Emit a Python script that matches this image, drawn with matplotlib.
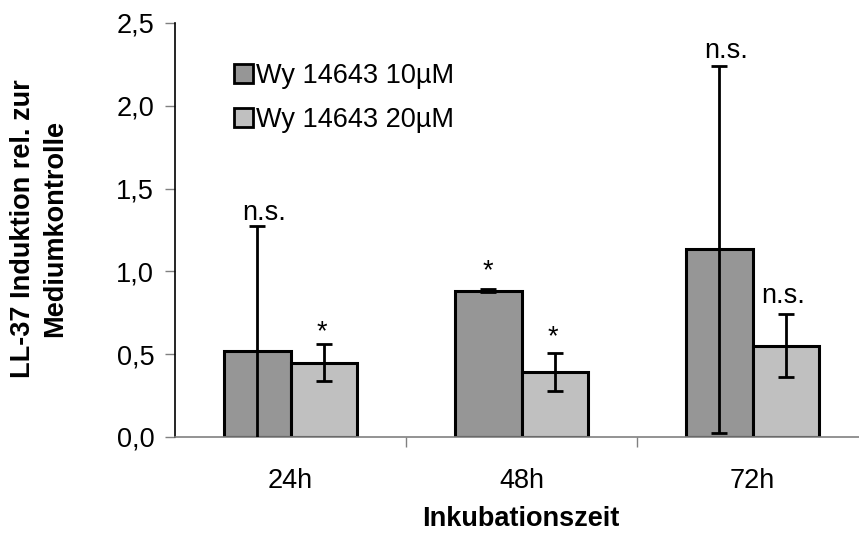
import matplotlib
matplotlib.use("Agg")
import matplotlib.pyplot as plt
import numpy as np

categories = ["24h", "48h", "72h"]
series_names = ["Wy 14643 10\u00b5M", "Wy 14643 20\u00b5M"]
values_10 = [0.52, 0.883, 1.133]
errors_10 = [0.755, 0.01, 1.11]
values_20 = [0.449, 0.394, 0.55]
errors_20 = [0.113, 0.116, 0.19]
labels_10 = ["n.s.", "*", "n.s."]
labels_20 = ["*", "*", "n.s."]
label_y_10 = [1.311, 0.96, 2.289]
label_y_20 = [0.592, 0.562, 0.811]
yticks = [0.0, 0.5, 1.0, 1.5, 2.0, 2.5]
ytick_labels = ["0,0", "0,5", "1,0", "1,5", "2,0", "2,5"]

plt.rcParams['font.family'] = ['Liberation Sans', 'DejaVu Sans']

W, H = 859, 534
fig = plt.figure(figsize=(W / 100, H / 100), dpi=100)
ax_left, ax_bottom = 175 / W, (H - 437) / H
ax_w, ax_h = 693 / W, (437 - 23) / H
ax = fig.add_axes([ax_left, ax_bottom, ax_w, ax_h])

x = np.arange(len(categories))
bw = 0.288
c1, c2 = "#969696", "#C0C0C0"
lw = 2.2
ax.bar(x - bw / 2, values_10, bw, color=c1, edgecolor="black", linewidth=lw, label=series_names[0], zorder=2)
ax.bar(x + bw / 2, values_20, bw, color=c2, edgecolor="black", linewidth=lw, label=series_names[1], zorder=2)
ax.errorbar(x - bw / 2, values_10, yerr=errors_10, fmt="none", ecolor="black", elinewidth=2, capsize=5.8, capthick=2, zorder=3)
ax.errorbar(x + bw / 2, values_20, yerr=errors_20, fmt="none", ecolor="black", elinewidth=2, capsize=5.8, capthick=2, zorder=3)

fs = 19.5
for xi, lab, yy in zip(x - bw / 2, labels_10, label_y_10):
    dx = 0.03 if lab == "n.s." else 0.0
    ax.text(xi + dx, yy, lab, ha="center", va="baseline", fontsize=fs)
for xi, lab, yy in zip(x + bw / 2, labels_20, label_y_20):
    dx = -0.01
    ax.text(xi + dx, yy, lab, ha="center", va="baseline", fontsize=fs)

ax.set_xlim(-0.5, 2.5)
ax.set_ylim(0, 2.5)
ax.set_yticks(yticks)
ax.set_yticklabels(ytick_labels, fontsize=fs)
ax.set_xticks(x)
ax.set_xticklabels(categories, fontsize=fs)
ax.set_xticks([0.5, 1.5], minor=True)
ax.tick_params(axis="x", which="major", length=0, pad=22)
ax.tick_params(axis="x", which="minor", length=7, width=1, color="#808080", direction="out")
ax.tick_params(axis="y", which="major", length=7, width=1, color="#808080", pad=8)

for s in ["top", "right"]:
    ax.spines[s].set_visible(False)
ax.spines["left"].set_color("black")
ax.spines["left"].set_linewidth(1.2)
ax.spines["bottom"].set_color("#808080")
ax.spines["bottom"].set_linewidth(1.2)

leg = ax.legend(loc="upper left", bbox_to_anchor=(234 / W, 1 - 63 / H), bbox_transform=fig.transFigure,
                frameon=False, fontsize=fs, handlelength=0.7, handleheight=0.7, handletextpad=0.12,
                labelspacing=0.66, borderpad=0, borderaxespad=0)
for p in leg.get_patches():
    p.set_linewidth(2.0)

fig.text(521 / W, 1.5 / H, "Inkubationszeit", ha="center", va="bottom", fontsize=fs, fontweight="bold")
fig.text(39 / W, 1 - 228.5 / H, "LL-37 Induktion rel. zur\nMediumkontrolle", ha="center", va="center",
         rotation=90, fontsize=fs, fontweight="bold", multialignment="center", linespacing=1.32)

fig.savefig("out.png", dpi=100)
